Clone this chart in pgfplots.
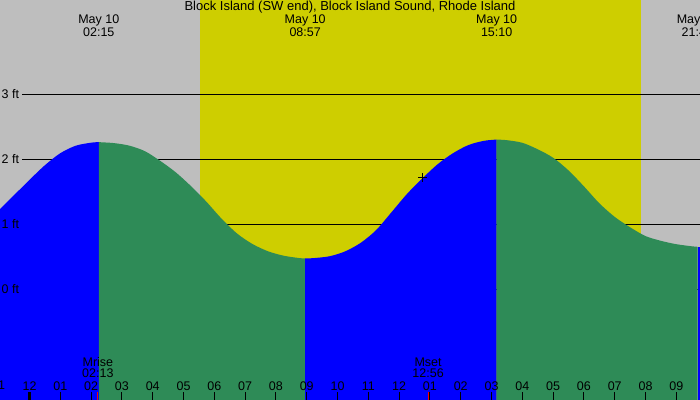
\documentclass[border=0pt]{standalone}
\usepackage{pgfplots}
\pgfplotsset{compat=1.18}
\usepackage{fontspec}
\setmainfont{Liberation Sans}
\definecolor{bgGray}{RGB}{190,190,190}
\definecolor{dayYel}{RGB}{206,206,0}
\definecolor{tideBlue}{RGB}{0,0,255}
\definecolor{tideGreen}{RGB}{46,139,87}
\newcommand\f{\fontsize{12.5bp}{14bp}\selectfont}
\begin{document}
\begin{tikzpicture}
\useasboundingbox (0,0) rectangle (700bp,400bp);
\clip (0,0) rectangle (700bp,400bp);
\begin{axis}[at={(0,0)}, anchor=south west, scale only axis,
  width=700bp, height=400bp,
  xmin=-0.958, xmax=21.769, ymin=-1.697, ymax=4.457,
  axis line style={draw=none}, axis on top,
  axis background/.style={fill=bgGray},
  xtick={0,...,21},
  xticklabels={12,01,02,03,04,05,06,07,08,09,10,11,12,01,02,03,04,05,06,07,08,09},
  xtick pos=lower, tick align=inside, major tick length=8bp,
  xtick style={black, line width=1bp},
  ytick=\empty,
  xticklabel style={anchor=base, yshift=10bp, font=\f, inner sep=0pt},
  clip=true]
% daylight
\addplot[fill=dayYel, draw=none] coordinates {(5.54,-1.8) (5.54,4.6) (19.86,4.6) (19.86,-1.8)} -- cycle;
% grid lines
\addplot[black, line width=1bp] coordinates {(-0.2435,3) (22,3)};
\addplot[black, line width=1bp] coordinates {(-0.2435,2) (22,2)};
\addplot[black, line width=1bp] coordinates {(-0.2435,1) (22,1)};
\addplot[black, line width=1bp] coordinates {(-0.2435,0) (22,0)};
% tide: rising (blue) and falling (green) segments
\addplot[fill=tideBlue, draw=none, smooth] coordinates {
(-1.0,1.22) (-0.5,1.455) (0.0,1.69) (0.5,1.915) (1.0,2.10) (1.5,2.215) (2.0,2.262) (2.25,2.27)}
 -- (axis cs:2.25,-1.8) -- (axis cs:-1.0,-1.8) -- cycle;
\addplot[fill=tideGreen, draw=none, smooth] coordinates {
(2.25,2.27) (2.75,2.255) (3.25,2.215) (3.75,2.13) (4.25,1.98) (4.75,1.805)
(5.25,1.59) (5.75,1.35) (6.25,1.085) (6.75,0.86) (7.25,0.70) (7.75,0.59)
(8.25,0.523) (8.75,0.487) (8.95,0.48)}
 -- (axis cs:8.95,-1.8) -- (axis cs:2.25,-1.8) -- cycle;
\addplot[fill=tideBlue, draw=none, smooth] coordinates {
(8.95,0.48) (9.25,0.487) (9.75,0.515) (10.25,0.59) (10.75,0.72) (11.25,0.915)
(11.75,1.19) (12.25,1.47) (12.75,1.71) (13.25,1.93) (13.75,2.10) (14.25,2.225)
(14.75,2.29) (15.167,2.31)}
 -- (axis cs:15.167,-1.8) -- (axis cs:8.95,-1.8) -- cycle;
\addplot[fill=tideGreen, draw=none, smooth] coordinates {
(15.167,2.31) (15.5,2.30) (16.0,2.26) (16.5,2.16) (17.0,2.03) (17.5,1.835)
(18.0,1.59) (18.5,1.33) (19.0,1.12) (19.5,0.96) (20.0,0.825) (20.5,0.752)
(21.0,0.70) (21.5,0.668) (21.69,0.66)}
 -- (axis cs:21.69,-1.8) -- (axis cs:15.167,-1.8) -- cycle;
\addplot[fill=tideBlue, draw=none] coordinates {(21.69,0.66) (21.8,0.66)}
 -- (axis cs:21.8,-1.8) -- (axis cs:21.69,-1.8) -- cycle;
% current marker
\addplot[only marks, mark=+, mark size=4.5bp, black, line width=0.8bp] coordinates {(12.77,1.72)};
% midnight tick and moon ticks
\addplot[black, line width=2.7bp] coordinates {(0,-1.697) (0,-1.574)};
\addplot[red, line width=1bp] coordinates {(2.22,-1.697) (2.22,-1.574)};
\addplot[red, line width=1bp] coordinates {(12.94,-1.697) (12.94,-1.574)};
% labels
\node[anchor=base, font=\f, inner sep=0pt] at (axis cs:-1,-1.543) {11};
\node[anchor=base west, font=\f, inner sep=0pt] at (axis cs:-0.91,2.938) {3 ft};
\node[anchor=base west, font=\f, inner sep=0pt] at (axis cs:-0.91,1.938) {2 ft};
\node[anchor=base west, font=\f, inner sep=0pt] at (axis cs:-0.91,0.938) {1 ft};
\node[anchor=base west, font=\f, inner sep=0pt] at (axis cs:-0.91,-0.062) {0 ft};
\node[anchor=base, font=\fontsize{13bp}{15bp}\selectfont, inner sep=0pt] at (axis cs:10.405,4.288) {Block Island (SW end), Block Island Sound, Rhode Island};
\node[anchor=base, font=\f, inner sep=0pt] at (axis cs:2.25,4.088) {May 10};
\node[anchor=base, font=\f, inner sep=0pt] at (axis cs:2.25,3.903) {02:15};
\node[anchor=base, font=\f, inner sep=0pt] at (axis cs:8.95,4.088) {May 10};
\node[anchor=base, font=\f, inner sep=0pt] at (axis cs:8.95,3.903) {08:57};
\node[anchor=base, font=\f, inner sep=0pt] at (axis cs:15.167,4.088) {May 10};
\node[anchor=base, font=\f, inner sep=0pt] at (axis cs:15.167,3.903) {15:10};
\node[anchor=base, font=\f, inner sep=0pt] at (axis cs:21.68,4.088) {May 10};
\node[anchor=base, font=\f, inner sep=0pt] at (axis cs:21.68,3.903) {21:41};
\node[anchor=base, font=\f, inner sep=0pt] at (axis cs:2.22,-1.174) {Mrise};
\node[anchor=base, font=\f, inner sep=0pt] at (axis cs:2.22,-1.354) {02:13};
\node[anchor=base, font=\f, inner sep=0pt] at (axis cs:12.94,-1.174) {Mset};
\node[anchor=base, font=\f, inner sep=0pt] at (axis cs:12.94,-1.354) {12:56};
\end{axis}
\end{tikzpicture}
\end{document}
